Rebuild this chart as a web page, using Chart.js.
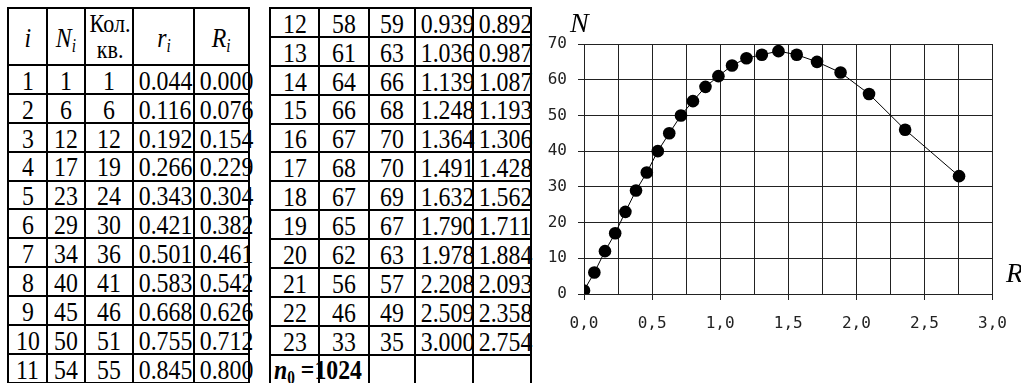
<!DOCTYPE html>
<html>
<head>
<meta charset="utf-8">
<script src="https://cdn.jsdelivr.net/npm/chart.js@4"></script>
<style>
  body { margin: 0; background: #fff; }
  #page { position: relative; width: 1021px; height: 383px; overflow: hidden; font-family: "Liberation Serif", "Times New Roman", serif; }
  table { position: absolute; top: 7px; border-collapse: collapse; table-layout: fixed; }
  td { border: 2px solid #000; padding: 0; font-size: 28px; line-height: 22px; text-align: center; white-space: nowrap; overflow: visible; }
  td > .sq { display: inline-block; line-height: 22px; vertical-align: middle; transform: scaleX(0.85); transform-origin: center; }
  td.lft { text-align: left; }
  td.lft > .sq { transform-origin: left center; }
  tr.row td { height: 26.9px; }
  tr.head td { height: 55px; }
  .it { font-style: italic; }
  .sub { font-size: 18px; font-style: italic; vertical-align: -5px; line-height: 0; }
  .kol { font-size: 26px; }
  .kol > .sq { line-height: 26px; }
  #t1 { left: 7px; width: 241px; }
  #t2 { left: 269px; width: 261px; }
  #chartBox { position: absolute; left: 530px; top: 0; width: 491px; height: 383px; }
  .axisName { position: absolute; font-style: italic; font-size: 28px; line-height: 1; }
</style>
</head>
<body>
<div id="page">
  <table id="t1">
    <colgroup><col style="width:39px"><col style="width:38px"><col style="width:48px"><col style="width:61px"><col style="width:55px"></colgroup>
    <tbody id="body1">
      <tr class="head">
        <td><span class="sq it">i</span></td>
        <td><span class="sq"><span class="it">N</span><span class="sub">i</span></span></td>
        <td class="kol"><span class="sq">Кол.<br>кв.</span></td>
        <td><span class="sq"><span class="it">r</span><span class="sub">i</span></span></td>
        <td><span class="sq"><span class="it">R</span><span class="sub">i</span></span></td>
      </tr>
    </tbody>
  </table>
  <table id="t2">
    <colgroup><col style="width:49px"><col style="width:50px"><col style="width:46px"><col style="width:58px"><col style="width:58px"></colgroup>
    <tbody id="body2"></tbody>
  </table>
  <div id="chartBox"><canvas id="chart"></canvas></div>
  <span class="axisName" style="left:570px; top:9px;">N</span>
  <span class="axisName" style="left:1006px; top:259px;">R</span>
</div>
<script>
// measurement table
const idx = [1, 2, 3, 4, 5, 6, 7, 8, 9, 10, 11, 12, 13, 14, 15, 16, 17, 18, 19, 20, 21, 22, 23];
const nVals = [1, 6, 12, 17, 23, 29, 34, 40, 45, 50, 54, 58, 61, 64, 66, 67, 68, 67, 65, 62, 56, 46, 33];
const kolKv = [1, 6, 12, 19, 24, 30, 36, 41, 46, 51, 55, 59, 63, 66, 68, 70, 70, 69, 67, 63, 57, 49, 35];
const rVals = ['0.044', '0.116', '0.192', '0.266', '0.343', '0.421', '0.501', '0.583', '0.668', '0.755', '0.845',
               '0.939', '1.036', '1.139', '1.248', '1.364', '1.491', '1.632', '1.790', '1.978', '2.208', '2.509', '3.000'];
const RVals = ['0.000', '0.076', '0.154', '0.229', '0.304', '0.382', '0.461', '0.542', '0.626', '0.712', '0.800',
               '0.892', '0.987', '1.087', '1.193', '1.306', '1.428', '1.562', '1.711', '1.884', '2.093', '2.358', '2.754'];
const n0 = 1024;

const xTicks = ['0,0', '0,5', '1,0', '1,5', '2,0', '2,5', '3,0'];

const cell = (v, cls) => `<td${cls ? ` class="${cls}"` : ''}><span class="sq">${v}</span></td>`;

function rowHtml(i) {
  return `<tr class="row">${cell(idx[i])}${cell(nVals[i])}${cell(kolKv[i])}${cell(rVals[i])}${cell(RVals[i])}</tr>`;
}

let h1 = '', h2 = '';
idx.forEach((_, i) => { if (i < 11) h1 += rowHtml(i); else h2 += rowHtml(i); });
h2 += `<tr class="row"><td class="lft" style="font-weight:bold;"><span class="sq" style="margin-left:3px;">` +
      `<i>n</i><span class="sub" style="font-style:normal;">0</span> =${n0}</span></td><td></td><td></td><td></td><td></td></tr>`;
document.getElementById('body1').insertAdjacentHTML('beforeend', h1);
document.getElementById('body2').innerHTML = h2;

const points = RVals.map((r, i) => ({ x: parseFloat(r), y: nVals[i] }));
const gridColor = '#222';
const tickFont = { family: '"DejaVu Sans Mono", monospace', size: 16 };

new Chart(document.getElementById('chart'), {
  type: 'scatter',
  data: {
    datasets: [{
      data: points,
      showLine: true,
      borderColor: '#000',
      borderWidth: 1,
      pointRadius: 6.3,
      pointBackgroundColor: '#000',
      pointBorderWidth: 0
    }]
  },
  options: {
    animation: false,
    responsive: true,
    maintainAspectRatio: false,
    layout: { padding: { top: 44, right: 23 } },
    plugins: { legend: { display: false }, tooltip: { enabled: false } },
    scales: {
      x: {
        type: 'linear',
        min: 0,
        max: 3,
        afterFit: s => { s.height = 89; },
        ticks: {
          stepSize: 0.25,
          autoSkip: false,
          maxRotation: 0,
          padding: 14,
          color: '#222',
          font: tickFont,
          callback: (v) => {
            const k = Math.round(v * 2);
            return Math.abs(v * 2 - k) < 1e-9 ? xTicks[k] : '';
          }
        },
        grid: {
          color: gridColor,
          lineWidth: 1,
          tickLength: 6,
          // tick marks only under the labelled lines
          tickColor: c => (c.index % 2 === 0 ? gridColor : 'rgba(0,0,0,0)')
        },
        border: { color: gridColor, width: 1 }
      },
      y: {
        min: 0,
        max: 70,
        afterFit: s => { s.width = 54; },
        ticks: { stepSize: 10, padding: 11, color: '#222', font: tickFont },
        grid: { color: gridColor, lineWidth: 1, tickLength: 6 },
        border: { color: gridColor, width: 1 }
      }
    }
  }
});
</script>
</body>
</html>
